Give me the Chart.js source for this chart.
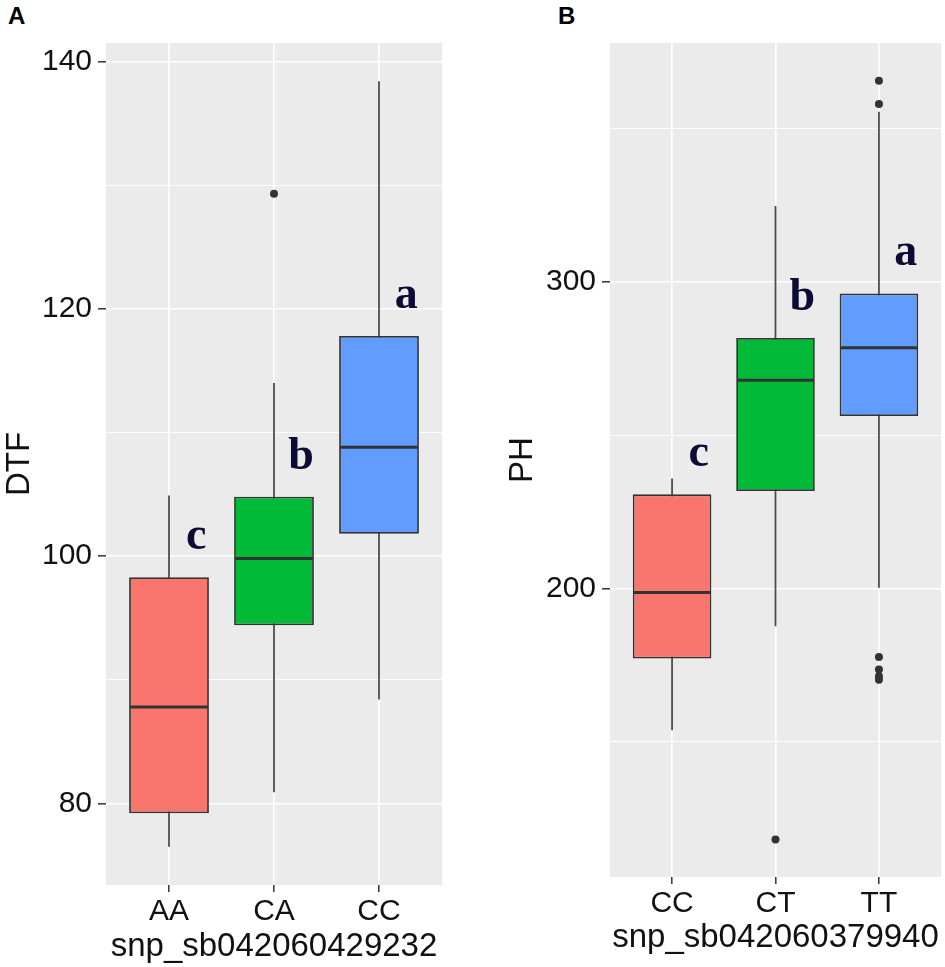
<!DOCTYPE html>
<html>
<head>
<meta charset="utf-8">
<script src="https://cdn.jsdelivr.net/npm/chart.js@4.4.0/dist/chart.umd.min.js"></script>
<style>
    html, body { margin: 0; padding: 0; background: #fff; }
    body { width: 945px; height: 967px; position: relative; overflow: hidden; font-family: "Liberation Sans", Arial, sans-serif; }
    canvas { position: absolute; top: 0; }
    #chartA { left: 0; }
    #chartB { left: 472px; }
    .tag { position: absolute; top: 4px; font: bold 24px/24px "Liberation Sans", Arial, sans-serif; color: #000; }
</style>
</head>
<body>
<div class="tag" style="left:8px">A</div>
<div class="tag" style="left:558px">B</div>
<canvas id="chartA" width="472" height="967"></canvas>
<canvas id="chartB" width="473" height="967"></canvas>

<script>
// --- DATA: panel A, days to flowering by snp_sb042060429232 ---
const dtfGenotypes = ['AA', 'CA', 'CC'];
const dtfMin = [76.5, 80.9, 88.4];
const dtfQ1 = [79.2, 94.4, 101.8];
const dtfMedian = [87.8, 99.8, 108.8];
const dtfQ3 = [98.3, 104.8, 117.8];
const dtfMax = [104.9, 114.0, 138.4];
const dtfOutliers = [[], [129.3], []];
const dtfLetters = ['c', 'b', 'a'];

// --- DATA: panel B, plant height by snp_sb042060379940 ---
const phGenotypes = ['CC', 'CT', 'TT'];
const phMin = [153.8, 187.7, 200.3];
const phQ1 = [177.2, 231.8, 256.2];
const phMedian = [198.7, 267.9, 278.5];
const phQ3 = [230.7, 281.7, 296.2];
const phMax = [235.9, 324.7, 355.4];
const phOutliers = [[], [118.2], [365.5, 357.9, 177.7, 173.6, 171.4, 170.3]];
const phLetters = ['c', 'b', 'a'];

const genotypeColors = ['#F8766D', '#00BA38', '#619CFF'];

const FONT = '"Liberation Sans", Arial, sans-serif';
const INK = '#333333';
const PANEL_BG = '#EBEBEB';

// whiskers, medians, panel background and letters are drawn through the chart's own scales
function boxParts(p) {
    return {
        id: 'boxParts',
        beforeDraw(chart) {
            const { ctx, chartArea: a } = chart;
            ctx.save();
            ctx.fillStyle = PANEL_BG;
            ctx.fillRect(a.left, a.top, a.width, a.height);
            ctx.restore();
        },
        beforeDatasetsDraw(chart) {
            const { ctx, scales: { x, y } } = chart;
            ctx.save();
            ctx.strokeStyle = '#4d4d4d';
            ctx.lineWidth = 1.8;
            p.min.forEach((lo, i) => {
                const px = x.getPixelForValue(i + 1);
                ctx.beginPath();
                ctx.moveTo(px, y.getPixelForValue(lo));
                ctx.lineTo(px, y.getPixelForValue(p.max[i]));
                ctx.stroke();
            });
            ctx.restore();
        },
        afterDatasetsDraw(chart) {
            const { ctx, scales: { y } } = chart;
            const boxes = chart.getDatasetMeta(0).data;
            ctx.save();
            ctx.strokeStyle = INK;
            ctx.lineWidth = 3;
            boxes.forEach((bar, i) => {
                const py = y.getPixelForValue(p.median[i]);
                ctx.beginPath();
                ctx.moveTo(bar.x - bar.width / 2 + 1, py);
                ctx.lineTo(bar.x + bar.width / 2 - 1, py);
                ctx.stroke();
            });
            // significance letters
            ctx.fillStyle = '#0b0b33';
            ctx.font = 'bold 46px "Liberation Serif", "Times New Roman", serif';
            ctx.textAlign = 'center';
            ctx.textBaseline = 'alphabetic';
            boxes.forEach((bar, i) => {
                ctx.fillText(p.letters[i], bar.x + bar.width * 0.34, y.getPixelForValue(p.q3[i]) - 28);
            });
            ctx.restore();
        }
    };
}

function makeBoxChart(canvasId, p) {
    const cats = p.cats;
    const isMajor = v => v % p.major === 0;
    return new Chart(document.getElementById(canvasId), {
        type: 'bar',
        data: {
            datasets: [{
                data: cats.map((c, i) => ({ x: i + 1, y: [p.q1[i], p.q3[i]] })),
                backgroundColor: genotypeColors,
                borderColor: INK,
                borderWidth: 1.8,
                borderSkipped: false,
                categoryPercentage: 1,
                barPercentage: 0.76
            }, {
                type: 'scatter',
                data: p.outliers.flatMap((vals, i) => vals.map(v => ({ x: i + 1, y: v }))),
                pointRadius: 4,
                backgroundColor: INK,
                borderWidth: 0
            }]
        },
        options: {
            responsive: false,
            animation: false,
            layout: { padding: p.pad },
            plugins: { legend: { display: false }, tooltip: { enabled: false } },
            scales: {
                x: {
                    type: 'linear',
                    min: 0.4,
                    max: cats.length + 0.6,
                    offset: false,
                    afterBuildTicks: s => { s.ticks = cats.map((c, i) => ({ value: i + 1 })); },
                    afterFit: s => { s.height = p.xAxisHeight; },
                    ticks: {
                        callback: v => cats[v - 1],
                        color: '#111', font: { family: FONT, size: 30 },
                        padding: 2, maxRotation: 0, autoSkip: false
                    },
                    grid: { color: '#fff', lineWidth: 1.6, offset: false, tickColor: INK, tickLength: 7, tickWidth: 1.5 },
                    border: { display: false },
                    title: {
                        display: true, text: p.xTitle, color: '#111',
                        font: { family: FONT, size: 33 },
                        padding: { top: 0, bottom: p.xTitlePad }
                    }
                },
                y: {
                    min: p.yMin,
                    max: p.yMax,
                    afterFit: s => { s.width = p.yAxisWidth; },
                    ticks: {
                        stepSize: p.step,
                        includeBounds: false,
                        callback: v => isMajor(v) ? v : '',
                        color: '#111', font: { family: FONT, size: 30 },
                        padding: 6
                    },
                    grid: {
                        color: '#fff',
                        lineWidth: c => (c.tick && isMajor(c.tick.value)) ? 1.6 : 0.9,
                        tickColor: c => (c.tick && isMajor(c.tick.value)) ? INK : 'rgba(0,0,0,0)',
                        tickLength: 8,
                        tickWidth: 1.5
                    },
                    border: { display: false },
                    title: {
                        display: true, text: p.yTitle, color: '#111',
                        font: { family: FONT, size: 33 },
                        padding: { top: p.yTitlePad, bottom: 0 }
                    }
                }
            }
        },
        plugins: [boxParts(p)]
    });
}

makeBoxChart('chartA', {
    cats: dtfGenotypes, min: dtfMin, q1: dtfQ1, median: dtfMedian, q3: dtfQ3, max: dtfMax,
    outliers: dtfOutliers, letters: dtfLetters,
    yTitle: 'DTF', xTitle: 'snp_sb042060429232',
    yMin: 73.4, yMax: 141.5, step: 10, major: 20,
    pad: { top: 43, right: 30, left: 0, bottom: 0 },
    yAxisWidth: 106, xAxisHeight: 82, yTitlePad: 0, xTitlePad: 0
});

makeBoxChart('chartB', {
    cats: phGenotypes, min: phMin, q1: phQ1, median: phMedian, q3: phQ3, max: phMax,
    outliers: phOutliers, letters: phLetters,
    yTitle: 'PH', xTitle: 'snp_sb042060379940',
    yMin: 106, yMax: 377.8, step: 50, major: 100,
    pad: { top: 43, right: 1, left: 0, bottom: 0 },
    yAxisWidth: 138, xAxisHeight: 90, yTitlePad: 31, xTitlePad: 9
});
</script>
</body>
</html>
